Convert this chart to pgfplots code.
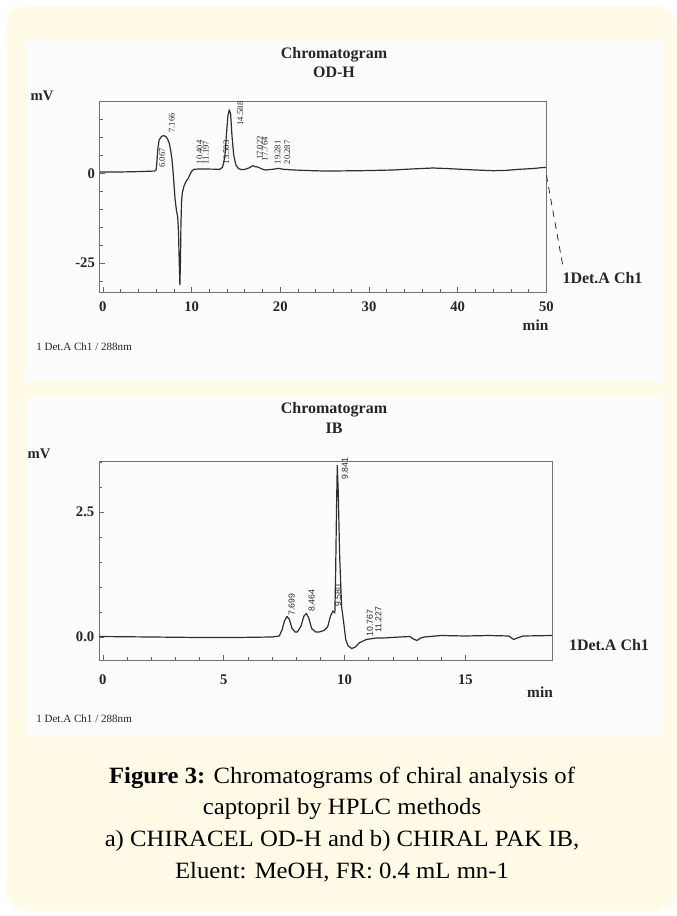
\documentclass[border=0pt]{standalone}
\usepackage{fontspec}
\setmainfont{Liberation Serif}
\newfontfamily\sansf{Liberation Sans}
\newfontfamily\capfont[FakeStretch=1.06]{Liberation Serif}
\usepackage{pgfplots}
\pgfplotsset{compat=1.18}
\definecolor{cream}{HTML}{FFFBE7}
\definecolor{trace}{HTML}{2E2E2E}
\definecolor{panel}{HTML}{FCFCFC}
\pgfplotsset{chrom/.style={
  scale only axis, anchor=south west,
  axis line style={black!55, line width=0.5pt},
  tick style={black!60, line width=0.5pt},
  major tick length=4pt, minor tick length=2.5pt,
  xtick pos=bottom, ytick pos=left, tick align=inside,
  ticklabel style={font=\bfseries\fontsize{11}{11}\selectfont, text=black!85},
  clip=false,
}}
\begin{document}
\begin{tikzpicture}
\begin{scope}[x=0.75pt,y=-0.75pt]
\useasboundingbox (0,0) rectangle (677,916);
\fill[white] (0,0) rectangle (677,916);
\fill[cream, rounded corners=16pt] (6,6) rectangle (677,911);
\fill[panel] (25.7,40) rectangle (663.5,381.7);
\fill[panel] (25.7,396.7) rectangle (663.5,735);
% top texts
\node[font=\bfseries\fontsize{12}{12}\selectfont, text=black!85] at (334,55) {Chromatogram};
\node[font=\bfseries\fontsize{12}{12}\selectfont, text=black!85] at (334,72.7) {OD-H};
\node[font=\bfseries\fontsize{11}{11}\selectfont, text=black!85] at (42,96) {mV};
\node[font=\bfseries\fontsize{12}{12}\selectfont, text=black!85] at (602.5,278.3) {1Det.A Ch1};
\node[font=\bfseries\fontsize{11.5}{11.5}\selectfont, text=black!85] at (535.5,325) {min};
\node[font=\fontsize{8.3}{8.3}\selectfont, text=black!85, anchor=west, inner sep=0pt] at (36,346.7) {1 Det.A Ch1 / 288nm};
% bottom texts
\node[font=\bfseries\fontsize{12}{12}\selectfont, text=black!85] at (334,410) {Chromatogram};
\node[font=\bfseries\fontsize{12}{12}\selectfont, text=black!85] at (334,428.3) {IB};
\node[font=\bfseries\fontsize{11}{11}\selectfont, text=black!85] at (39,454.3) {mV};
\node[font=\bfseries\fontsize{12}{12}\selectfont, text=black!85] at (609,645) {1Det.A Ch1};
\node[font=\bfseries\fontsize{11.5}{11.5}\selectfont, text=black!85] at (540,691.7) {min};
\node[font=\fontsize{8.3}{8.3}\selectfont, text=black!85, anchor=west, inner sep=0pt] at (36,718.3) {1 Det.A Ch1 / 288nm};
% caption
\node[font=\capfont\fontsize{17.5}{17.5}\selectfont, anchor=base, inner sep=0pt] at (342,783) {\textbf{Figure 3:} Chromatograms of chiral analysis of};
\node[font=\capfont\fontsize{17.5}{17.5}\selectfont, anchor=base, inner sep=0pt] at (342,814.5) {captopril by HPLC methods};
\node[font=\capfont\fontsize{17.5}{17.5}\selectfont, anchor=base, inner sep=0pt] at (342,846.5) {a) CHIRACEL OD-H and b) CHIRAL PAK IB,};
\node[font=\capfont\fontsize{17.5}{17.5}\selectfont, anchor=base, inner sep=0pt] at (342,878) {Eluent: MeOH, FR: 0.4 mL mn-1};
\end{scope}

\begin{axis}[chrom, at={(74.7pt,-219pt)},
  width=335.1pt, height=142.8pt,
  xmin=-0.37, xmax=50, ymin=-33, ymax=19.9,
  xtick={0,10,20,30,40,50}, xticklabels={0,10,20,30,40,50},
  minor x tick num=4,
  ytick={-25,0}, yticklabels={-25,0},
  minor ytick={-30,-20,-15,-10,-5,5,10,15},
  xticklabel style={yshift=-3.5pt}]
\addplot[trace, line width=0.9pt, line join=round] coordinates {
(-0.3,0.35) (2,0.35) (4,0.45) (5.8,0.6) (6.0,0.9) (6.07,2.5) (6.2,7.0) (6.35,9.3)
(6.6,10.2) (6.85,10.45) (7.1,10.2) (7.3,9.5) (7.5,8.2) (7.65,6.2) (7.78,4.0)
(7.9,0.8) (8.0,-2.5) (8.13,-7.0) (8.3,-10.5) (8.43,-12.0) (8.52,-16) (8.6,-24)
(8.68,-31) (8.75,-24) (8.8,-14) (8.87,-8) (8.95,-5.5) (9.15,-3.5) (9.4,-2.2)
(9.64,-1.3) (9.85,-0.2) (10.05,0.7) (10.3,1.1) (11,1.2) (12,1.15) (13.2,1.1)
(13.5,1.7) (13.75,4.5) (13.95,11.5) (14.1,16.0) (14.25,17.6) (14.4,16.5)
(14.55,10.5) (14.75,5.0) (15.0,2.2) (15.3,1.3) (15.6,1.0) (16.0,1.05) (16.5,1.5)
(16.9,2.1) (17.2,1.8) (17.5,1.7) (17.9,1.2) (18.3,0.9) (19.2,1.1) (19.8,1.35)
(20.3,1.1) (21.5,0.9) (23,0.75) (25.2,0.6) (27,0.65) (29,0.7) (31,0.8) (32.7,0.9)
(35,1.2) (37.2,1.45) (38.8,1.3) (40.3,1.1) (42,0.9) (44,0.7) (45.5,0.8) (47,1.1)
(48.5,1.3) (49.65,1.6) (49.95,1.6)
};
\addplot[trace, line width=0.6pt, dash pattern=on 5pt off 4pt] coordinates {(50,-0.5) (51.9,-26.4)};
\begin{scope}[every node/.style={rotate=90, anchor=west, inner sep=0.3pt, font=\fontsize{6.5}{6.5}\selectfont, text=black!85}]
\node at (axis cs:6.67,1.4) {6.067};
\node at (axis cs:7.77,11.1) {7.166};
\node at (axis cs:10.9,2.3) {10.404};
\node at (axis cs:11.6,2.3) {11.197};
\node at (axis cs:13.9,2.3) {13.503};
\node at (axis cs:15.5,13.1) {14.588};
\node at (axis cs:17.7,3.5) {17.022};
\node at (axis cs:18.26,3.2) {17.764};
\node at (axis cs:19.7,2.3) {19.281};
\node at (axis cs:20.8,2.3) {20.287};
\end{scope}
\end{axis}

\begin{axis}[chrom, at={(74.27pt,-495pt)},
  width=339.6pt, height=148.9pt,
  xmin=-0.16, xmax=18.58, ymin=-0.46, ymax=3.51,
  xtick={0,5,10,15}, xticklabels={0,5,10,15},
  minor x tick num=4,
  ytick={0,2.5}, yticklabels={0.0,2.5},
  minor ytick={0.5,1,1.5,2,3,3.5},
  xticklabel style={yshift=-7.7pt}]
\addplot[trace, line width=0.9pt, line join=round] coordinates {
(-0.16,0.01) (2,0.0) (4,-0.01) (5.5,-0.01) (7.0,0.0) (7.3,0.02) (7.42,0.15)
(7.52,0.33) (7.62,0.41) (7.72,0.35) (7.82,0.18) (7.95,0.1) (8.05,0.1) (8.2,0.22)
(8.32,0.42) (8.42,0.47) (8.52,0.38) (8.64,0.17) (8.8,0.1) (8.95,0.1) (9.15,0.13)
(9.3,0.2) (9.42,0.42) (9.52,0.52) (9.6,0.48) (9.63,1.2) (9.67,2.6) (9.7,3.43)
(9.74,2.9) (9.8,1.6) (9.88,0.6) (9.95,0.35) (10.05,-0.05) (10.15,-0.18) (10.3,-0.23)
(10.45,-0.2) (10.6,-0.12) (10.9,-0.05) (11.3,-0.02) (11.6,-0.02) (12.3,0.0)
(12.7,0.01) (12.85,-0.04) (13.0,-0.07) (13.15,-0.02) (13.3,0.0) (14,0.03) (15,0.02)
(16,0.03) (16.8,0.02) (17.0,-0.05) (17.15,-0.02) (17.4,0.02) (18.58,0.03)
};
\begin{scope}[every node/.style={rotate=90, anchor=west, inner sep=0.3pt, font=\sansf\fontsize{6.5}{6.5}\selectfont, text=black!85}]
\node at (axis cs:7.81,0.42) {7.699};
\node at (axis cs:8.64,0.5) {8.464};
\node at (axis cs:9.74,0.6) {9.580};
\node at (axis cs:10.02,3.13) {9.841};
\node at (axis cs:11.05,0.0) {10.767};
\node at (axis cs:11.4,0.07) {11.227};
\end{scope}
\end{axis}
\end{tikzpicture}
\end{document}
